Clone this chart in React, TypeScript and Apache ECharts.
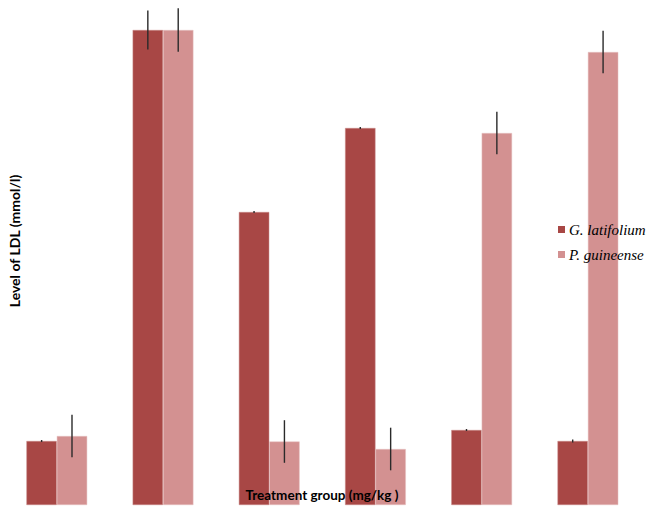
import React, { useEffect, useRef } from "react";
import * as echarts from "echarts";

const categories = ["Control", "Dose 1", "Dose 2", "Dose 3", "Dose 4", "Dose 5"];
const seriesNames = ["G. latifolium", "P. guineense"];
const latifoliumValues = [0.64, 4.75, 2.93, 3.77, 0.75, 0.64];
const latifoliumErrors = [0.01, 0.195, 0.01, 0.01, 0.01, 0.015];
const guineenseValues = [0.69, 4.75, 0.635, 0.56, 3.72, 4.53];
const guineenseErrors = [0.212, 0.217, 0.213, 0.213, 0.213, 0.213];

const DARK = "#A84745";
const LIGHT = "#D39191";
const BAR_FRAC = 0.286;

function errorSeries(values: number[], errors: number[], side: number) {
  return {
    type: "custom",
    z: 10,
    silent: true,
    encode: { x: 0, y: 1 },
    data: values.map((v, i) => [i, v, errors[i]]),
    renderItem: (params: any, api: any) => {
      const catW = api.size([1, 0])[0];
      const bw = catW * BAR_FRAC;
      const c = api.coord([api.value(0), api.value(1)]);
      const errPx = api.size([0, api.value(2)])[1];
      const x = c[0] + (side * bw) / 2;
      return {
        type: "line",
        shape: { x1: x, y1: c[1] - errPx, x2: x, y2: c[1] + errPx },
        style: { stroke: "#2a2a2a", lineWidth: 1.4 },
      };
    },
  };
}

const SERIF = "'Times New Roman', 'Liberation Serif', 'DejaVu Serif', serif";

export default function App() {
  const ref = useRef<HTMLDivElement>(null);
  useEffect(() => {
    if (!ref.current) return;
    const chart = echarts.init(ref.current, null, { renderer: "svg" });
    chart.setOption({
      animation: false,
      backgroundColor: "#ffffff",
      grid: { left: 3.7, right: 9, top: 5, bottom: 9 },
      legend: {
        orient: "vertical",
        left: 553,
        top: 217,
        itemWidth: 7,
        itemHeight: 7,
        itemGap: 10,
        icon: "rect",
        data: seriesNames,
        itemStyle: { borderWidth: 0 },
        textStyle: {
          fontFamily: SERIF,
          fontStyle: "italic",
          fontSize: 15,
          color: "#000",
          padding: [0, 0, 0, -1],
        },
      },
      xAxis: {
        type: "category",
        data: categories,
        axisLine: { show: false },
        axisTick: { show: false },
        axisLabel: { show: false },
      },
      yAxis: {
        type: "value",
        min: 0,
        max: 5,
        axisLine: { show: false },
        axisTick: { show: false },
        axisLabel: { show: false },
        splitLine: { show: false },
      },
      series: [
        {
          name: seriesNames[0],
          type: "bar",
          data: latifoliumValues,
          barWidth: BAR_FRAC * 100 + "%",
          barGap: "0%",
          itemStyle: { color: DARK, borderColor: "#C98A88", borderWidth: 0.5 },
        },
        {
          name: seriesNames[1],
          type: "bar",
          data: guineenseValues,
          barWidth: BAR_FRAC * 100 + "%",
          barGap: "0%",
          itemStyle: { color: LIGHT, borderColor: "#E6C2C2", borderWidth: 0.5 },
        },
        errorSeries(latifoliumValues, latifoliumErrors, -1),
        errorSeries(guineenseValues, guineenseErrors, 1),
      ],
      graphic: [
        {
          type: "text",
          x: 322,
          y: 495,
          z: 100,
          style: {
            text: "Treatment group (mg/kg )",
            fontFamily: "Lato",
            fontWeight: "bold",
            fontSize: 13.5,
            fill: "#000",
            align: "center",
            verticalAlign: "middle",
          },
        },
        {
          type: "text",
          x: 14,
          y: 241,
          rotation: Math.PI / 2,
          z: 100,
          style: {
            text: "Level of LDL (mmol/l)",
            fontFamily: "Lato",
            fontWeight: "bold",
            fontSize: 14,
            fill: "#000",
            align: "center",
            verticalAlign: "middle",
          },
        },
      ],
    });
    return () => chart.dispose();
  }, []);
  return (
    <div
      ref={ref}
      style={{ position: "fixed", left: 0, top: 0, width: 650, height: 514 }}
    />
  );
}
